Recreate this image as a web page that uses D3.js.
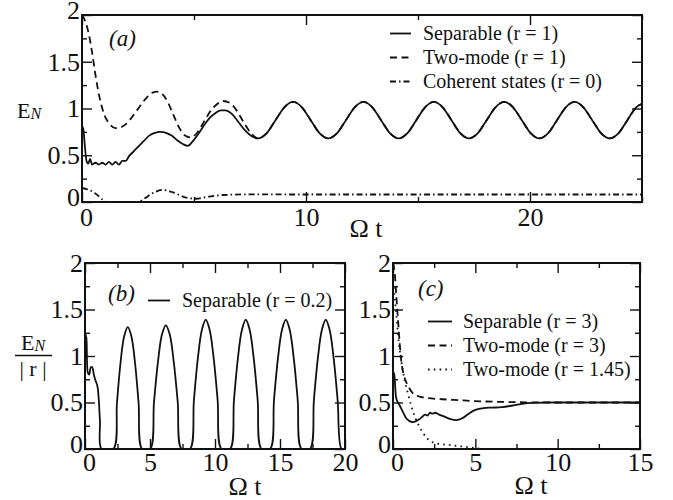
<!DOCTYPE html>
<html>
<head>
<meta charset="utf-8">
<script src="https://cdn.jsdelivr.net/npm/d3@7"></script>
</head>
<body style="margin:0;background:#fff">
<svg id="fig" width="673" height="500" font-family="Liberation Serif"></svg>
<script>
// ---------------- DATA ----------------
// Panel (a): E_N vs Omega t
const aXMajor = [0, 10, 20];
const aXMinor = [5, 15, 25];
const yMajor = [0, 0.5, 1, 1.5, 2];
const yMinor = [0.25, 0.75, 1.25, 1.75];

// common oscillating tail of the r = 1 curves (both coincide for Omega t > 7.8)
const aTail = [[7.854,0.68],[8.247,0.737],[8.639,0.875],[9.032,1.013],[9.425,1.07],[9.817,1.013],[10.21,0.875],[10.603,0.737],[10.996,0.68],[11.388,0.737],[11.781,0.875],[12.174,1.013],[12.566,1.07],[12.959,1.013],[13.352,0.875],[13.744,0.737],[14.137,0.68],[14.53,0.737],[14.923,0.875],[15.315,1.013],[15.708,1.07],[16.101,1.013],[16.493,0.875],[16.886,0.737],[17.279,0.68],[17.671,0.737],[18.064,0.875],[18.457,1.013],[18.85,1.07],[19.242,1.013],[19.635,0.875],[20.028,0.737],[20.42,0.68],[20.813,0.737],[21.206,0.875],[21.598,1.013],[21.991,1.07],[22.384,1.013],[22.777,0.875],[23.169,0.737],[23.562,0.68],[23.955,0.737],[24.347,0.875],[24.74,1.013],[25,1.05]];

const aSeparableStart = [[0,0.74],[0.05,0.8],[0.12,0.62],[0.2,0.44],[0.28,0.41],[0.36,0.46],[0.45,0.4],[0.6,0.42],[0.75,0.4],[0.9,0.42],[1.05,0.4],[1.2,0.43],[1.35,0.4],[1.5,0.43],[1.65,0.4],[1.8,0.44],[1.95,0.44],[2.1,0.49],[2.3,0.54],[2.5,0.59],[2.75,0.65],[3.0,0.71],[3.25,0.74],[3.5,0.75],[3.75,0.74],[4.0,0.71],[4.25,0.66],[4.5,0.62],[4.72,0.6],[4.95,0.65],[5.2,0.73],[5.45,0.82],[5.7,0.9],[5.95,0.95],[6.2,0.98],[6.4,0.98],[6.7,0.94],[7.0,0.85],[7.3,0.76],[7.6,0.7]];
const aTwoModeStart = [[0,2.0],[0.15,1.93],[0.3,1.8],[0.45,1.6],[0.6,1.36],[0.8,1.1],[1.0,0.93],[1.25,0.83],[1.5,0.79],[1.75,0.8],[2.0,0.84],[2.3,0.93],[2.6,1.03],[2.9,1.12],[3.15,1.17],[3.35,1.18],[3.6,1.15],[3.85,1.06],[4.1,0.92],[4.35,0.79],[4.6,0.71],[4.85,0.69],[5.1,0.73],[5.4,0.84],[5.7,0.96],[6.0,1.04],[6.3,1.08],[6.6,1.06],[6.9,0.98],[7.2,0.86],[7.5,0.75]];
const aCoherent = [[0,0.15],[0.3,0.13],[0.6,0.09],[0.9,0.03],[1.1,0],[2.5,0],[2.8,0.04],[3.2,0.1],[3.6,0.13],[4.1,0.1],[4.6,0.05],[5.1,0.035],[5.6,0.055],[6.3,0.075],[7.5,0.082],[10,0.08],[25,0.08]];
const aSeparable = aSeparableStart.concat(aTail);
const aTwoMode = aTwoModeStart.concat(aTail);

// Panel (b): E_N/|r|, separable r = 0.2
const bXMajor = [0, 5, 10, 15, 20];
const bXMinor = [2.5, 7.5, 12.5, 17.5];
const bSeparable = [[0,1.25],[0.1,1.2],[0.22,0.82],[0.32,0.8],[0.45,0.88],[0.55,0.88],[0.68,0.8],[0.8,0.74],[0.95,0.68],[1.05,0.55],[1.15,0.3],[1.28,0],
  [2.18,0],[2.46,0.5],[2.735,0.93],[3.01,1.21],[3.29,1.31],[3.57,1.21],[3.845,0.93],[4.12,0.5],[4.4,0],
  [5.01,0],[5.31,0.51],[5.615,0.94],[5.92,1.23],[6.22,1.33],[6.52,1.23],[6.825,0.94],[7.13,0.51],[7.43,0],
  [8.08,0],[8.38,0.53],[8.685,0.98],[8.99,1.28],[9.29,1.39],[9.59,1.28],[9.895,0.98],[10.2,0.53],[10.5,0],
  [11.16,0],[11.46,0.53],[11.765,0.98],[12.07,1.28],[12.37,1.39],[12.67,1.28],[12.975,0.98],[13.28,0.53],[13.58,0],
  [14.24,0],[14.54,0.53],[14.845,0.98],[15.15,1.28],[15.45,1.39],[15.75,1.28],[16.055,0.98],[16.36,0.53],[16.66,0],
  [17.31,0],[17.61,0.53],[17.915,0.98],[18.22,1.28],[18.52,1.39],[18.82,1.28],[19.125,0.98],[19.43,0.53],[19.73,0],[20,0]];

// Panel (c): E_N/|r|
const cXMajor = [0, 5, 10, 15];
const cXMinor = [2.5, 7.5, 12.5];
const cSeparable = [[0,0.83],[0.08,0.8],[0.18,0.56],[0.3,0.5],[0.4,0.47],[0.6,0.4],[0.8,0.33],[1.0,0.3],[1.2,0.29],[1.4,0.3],[1.6,0.32],[1.8,0.35],[1.95,0.37],[2.1,0.36],[2.25,0.39],[2.4,0.38],[2.55,0.39],[2.8,0.37],[3.1,0.35],[3.5,0.32],[3.85,0.31],[4.2,0.33],[4.6,0.38],[5.0,0.42],[5.5,0.44],[6.0,0.445],[6.6,0.45],[7.2,0.465],[7.8,0.485],[8.5,0.497],[9.5,0.5],[15,0.5]];
const cTwoMode3 = [[0,2.0],[0.1,1.9],[0.2,1.65],[0.3,1.4],[0.4,1.15],[0.5,0.95],[0.65,0.8],[0.8,0.72],[1.0,0.65],[1.2,0.6],[1.5,0.57],[2,0.55],[3,0.535],[4,0.525],[5,0.515],[6.5,0.507],[8,0.502],[10,0.5],[15,0.5]];
const cTwoMode145 = [[0,1.8],[0.2,1.45],[0.35,1.15],[0.5,0.95],[0.7,0.75],[0.9,0.6],[1.1,0.47],[1.3,0.36],[1.55,0.26],[1.8,0.18],[2.1,0.11],[2.5,0.065],[3,0.05],[3.6,0.04],[4.3,0.025],[5,0.01],[5.5,0],[11.2,0]];

// ---------------- DRAW ----------------
const svg = d3.select("#fig");
const INK = "#111";
const FONT = "Liberation Serif";
const DASH = "7,4.5", DASHDOT = "6,3,1.5,3", DOT = "1.6,4.2";

function txt(parent, x, y, size, str) {
  const t = parent.append("text").attr("x", x).attr("y", y).attr("fill", INK)
    .attr("font-family", FONT).attr("font-size", size);
  if (str !== null) t.text(str);
  return t;
}

let clipId = 0;
function panel(cfg) {
  const x = d3.scaleLinear().domain(cfg.xDomain).range([cfg.left, cfg.right]);
  const y = d3.scaleLinear().domain([0, 2]).range([cfg.bottom, cfg.top]);
  const g = svg.append("g");

  const fmt = d => String(d);
  const addAxis = (axis, tr, vals, size, labels, pad) => {
    const a = g.append("g").attr("transform", tr)
      .call(axis.tickValues(vals).tickSize(-size).tickSizeOuter(0).tickPadding(labels ? (pad || 4) : 0)
        .tickFormat(labels ? fmt : ""));
    a.select(".domain").remove();
    a.attr("font-family", FONT).attr("font-size", 26);
    a.selectAll(".tick line").attr("stroke", INK).attr("stroke-width", 1.4);
    a.selectAll(".tick text").attr("fill", INK).attr("font-family", FONT).attr("font-size", 26);
    return a;
  };
  // bottom / top
  const xb = addAxis(d3.axisBottom(x), `translate(0,${cfg.bottom})`, cfg.xMajor, 10, true, cfg.xPad);
  xb.selectAll(".tick text").filter(d => d === 0).attr("dx", 4);
  addAxis(d3.axisBottom(x), `translate(0,${cfg.bottom})`, cfg.xMinor, 5, false);
  addAxis(d3.axisTop(x), `translate(0,${cfg.top})`, cfg.xMajor, 10, false);
  addAxis(d3.axisTop(x), `translate(0,${cfg.top})`, cfg.xMinor, 5, false);
  // left / right
  const yl = addAxis(d3.axisLeft(y), `translate(${cfg.left},0)`, yMajor, 10, true);
  yl.selectAll(".tick text").attr("x", -2);
  yl.selectAll(".tick text").filter(d => d === 0).attr("dy", "0.15em");
  if (cfg.raiseTop) yl.selectAll(".tick text").filter(d => d === 2).attr("dy", "0.14em");
  addAxis(d3.axisLeft(y), `translate(${cfg.left},0)`, yMinor, 5, false);
  addAxis(d3.axisRight(y), `translate(${cfg.right},0)`, yMajor, 10, false);
  addAxis(d3.axisRight(y), `translate(${cfg.right},0)`, yMinor, 5, false);

  const id = "clip" + (clipId++);
  g.append("clipPath").attr("id", id).append("rect")
    .attr("x", cfg.left).attr("y", cfg.top - 1)
    .attr("width", cfg.right - cfg.left).attr("height", cfg.bottom - cfg.top + 1);

  const line = d3.line().x(d => x(d[0])).y(d => y(d[1])).curve(cfg.curve || d3.curveMonotoneX);
  cfg.series.forEach(s => {
    g.append("path").datum(s.data).attr("d", line)
      .attr("clip-path", `url(#${id})`)
      .attr("fill", "none").attr("stroke", INK).attr("stroke-width", 1.8)
      .attr("stroke-dasharray", s.dash || null);
  });

  g.append("rect").attr("x", cfg.left).attr("y", cfg.top)
    .attr("width", cfg.right - cfg.left).attr("height", cfg.bottom - cfg.top)
    .attr("fill", "none").attr("stroke", INK).attr("stroke-width", 2);

  // legend
  cfg.legend.forEach(l => {
    const by = l.y;
    g.append("line").attr("x1", l.x1).attr("x2", l.x2).attr("y1", by - 6.5).attr("y2", by - 6.5)
      .attr("stroke", INK).attr("stroke-width", 1.8).attr("stroke-dasharray", l.dash || null);
    txt(g, l.tx, by, 20, l.label);
  });
  // panel letter
  txt(g, cfg.letter[0], cfg.letter[1], 23, cfg.letter[2]).attr("font-style", "italic");
  // x title
  txt(g, cfg.xtitle[0], cfg.xtitle[1], 26, "\u03A9 t").attr("text-anchor", "middle");
  return {x, y};
}

panel({
  left: 82, right: 642, top: 15, bottom: 202, xDomain: [0, 25],
  xMajor: aXMajor, xMinor: aXMinor, xPad: 6, raiseTop: true,
  series: [{data: aSeparable}, {data: aTwoMode, dash: DASH}, {data: aCoherent, dash: DASHDOT}],
  legend: [
    {x1: 390, x2: 411, tx: 423, y: 40, label: "Separable (r = 1)"},
    {x1: 390, x2: 411, tx: 423, y: 64, label: "Two-mode (r = 1)", dash: DASH},
    {x1: 390, x2: 411, tx: 423, y: 88, label: "Coherent states (r = 0)", dash: DASHDOT}
  ],
  letter: [109, 46, "(a)"],
  xtitle: [366, 237]
});

panel({
  left: 85, right: 345, top: 263, bottom: 449, xDomain: [0, 20],
  xMajor: bXMajor, xMinor: bXMinor, curve: d3.curveCatmullRom.alpha(0.5),
  series: [{data: bSeparable}],
  legend: [{x1: 148, x2: 170, tx: 182, y: 307, label: "Separable (r = 0.2)"}],
  letter: [108, 301, "(b)"],
  xtitle: [245, 495]
});

panel({
  left: 393, right: 640, top: 263, bottom: 449, xDomain: [0, 15],
  xMajor: cXMajor, xMinor: cXMinor,
  series: [{data: cSeparable}, {data: cTwoMode3, dash: DASH}, {data: cTwoMode145, dash: DOT}],
  legend: [
    {x1: 428, x2: 452, tx: 463, y: 328, label: "Separable (r = 3)"},
    {x1: 428, x2: 452, tx: 463, y: 352, label: "Two-mode (r = 3)", dash: DASH},
    {x1: 428, x2: 452, tx: 463, y: 376, label: "Two-mode (r = 1.45)", dash: DOT}
  ],
  letter: [418, 296, "(c)"],
  xtitle: [531, 494]
});

// y-axis titles
const ya = txt(svg, 17, 118, 22, null);
ya.append("tspan").text("E");
ya.append("tspan").attr("dy", 1).attr("font-size", 16).attr("font-style", "italic").text("N");

const yb = txt(svg, 33, 350, 22, null).attr("text-anchor", "middle");
yb.append("tspan").text("E");
yb.append("tspan").attr("dy", 1).attr("font-size", 16).attr("font-style", "italic").text("N");
svg.append("line").attr("x1", 15).attr("x2", 52).attr("y1", 355.5).attr("y2", 355.5)
  .attr("stroke", INK).attr("stroke-width", 1.4);
txt(svg, 33, 376, 22, "| r |").attr("text-anchor", "middle");
</script>
</body>
</html>
